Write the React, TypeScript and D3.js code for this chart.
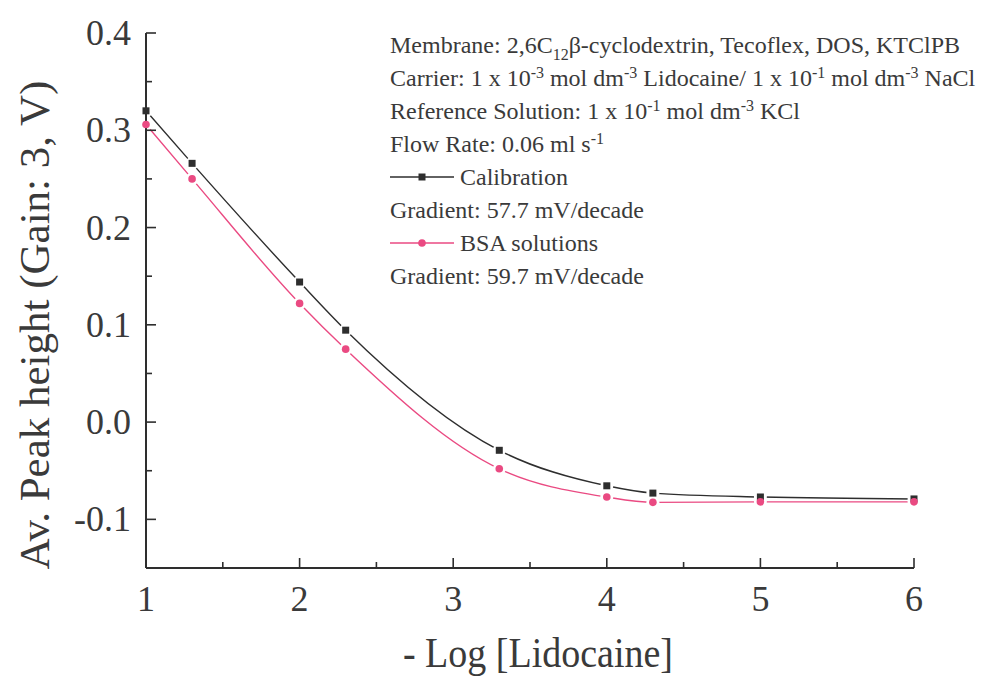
import React from "react";
import * as d3 from "d3";

const xValues = [1, 1.3, 2, 2.3, 3.3, 4, 4.3, 5, 6];
const calibration = [0.32, 0.266, 0.144, 0.0945, -0.029, -0.0655, -0.073, -0.077, -0.079];
const bsa = [0.306, 0.25, 0.122, 0.075, -0.048, -0.077, -0.0825, -0.082, -0.082];
const xTicks = [1, 2, 3, 4, 5, 6];
const xMinor = [1.5, 2.5, 3.5, 4.5, 5.5];
const yTicks = [-0.1, 0, 0.1, 0.2, 0.3, 0.4];
const yTickLabels = ["-0.1", "0.0", "0.1", "0.2", "0.3", "0.4"];
const yMinor = [-0.05, 0.05, 0.15, 0.25, 0.35];
const seriesNames = ["Calibration", "BSA solutions"];
const gradients = ["Gradient: 57.7 mV/decade", "Gradient: 59.7 mV/decade"];

const W = 991, H = 679;
const left = 146, right = 914, top = 33, bottom = 568;
const BLACK = "#2e2e2e";
const PINK = "#ea4a82";
const TXT = "#3a3a3a";
const FONT = "'Liberation Serif', 'Times New Roman', serif";

export default function App() {
  const x = d3.scaleLinear().domain([1, 6]).range([left, right]);
  const y = d3.scaleLinear().domain([-0.15, 0.4]).range([bottom, top]);
  const line = d3.line<number>().x((_, i) => x(xValues[i])).y((d) => y(d)).curve(d3.curveMonotoneX);

  const tickFs = 36;
  const lfs = 24;
  const lx = 390;
  const base0 = 53;
  const step = 33;
  const sup = { fontSize: 16, baselineShift: "super" } as any;

  return (
    <svg width={W} height={H} style={{ position: "absolute", left: 0, top: 0, background: "#fff" }} fontFamily={FONT}>
      <rect width={W} height={H} fill="#fff" />
      {/* series lines */}
      <path d={line(calibration) || ""} fill="none" stroke={BLACK} strokeWidth={1.4} />
      <path d={line(bsa) || ""} fill="none" stroke={PINK} strokeWidth={1.4} />
      {/* halos */}
      {xValues.map((xv, i) => (
        <g key={"h" + i}>
          <circle cx={x(xv)} cy={y(calibration[i])} r={6.5} fill="#fff" />
          <circle cx={x(xv)} cy={y(bsa[i])} r={6.5} fill="#fff" />
        </g>
      ))}
      {/* axes */}
      <line x1={left} x2={left} y1={top} y2={bottom} stroke={BLACK} strokeWidth={2} />
      <line x1={left} x2={right} y1={bottom} y2={bottom} stroke={BLACK} strokeWidth={2} />
      {yTicks.map((t, i) => (
        <g key={"yt" + t}>
          <line x1={left} x2={left + 10} y1={y(t)} y2={y(t)} stroke={BLACK} strokeWidth={1.6} />
          <text x={131} y={y(t) + 12} textAnchor="end" fontSize={tickFs} fill={TXT}>
            {yTickLabels[i]}
          </text>
        </g>
      ))}
      {yMinor.map((t) => (
        <line key={"ym" + t} x1={left} x2={left + 6} y1={y(t)} y2={y(t)} stroke={BLACK} strokeWidth={1.6} />
      ))}
      {xTicks.map((t) => (
        <g key={"xt" + t}>
          <line x1={x(t)} x2={x(t)} y1={bottom} y2={bottom - 10} stroke={BLACK} strokeWidth={1.6} />
          <text x={x(t)} y={611} textAnchor="middle" fontSize={tickFs} fill={TXT}>
            {t}
          </text>
        </g>
      ))}
      {xMinor.map((t) => (
        <line key={"xm" + t} x1={x(t)} x2={x(t)} y1={bottom} y2={bottom - 6} stroke={BLACK} strokeWidth={1.6} />
      ))}
      {/* markers */}
      {xValues.map((xv, i) => (
        <g key={"m" + i}>
          <rect x={x(xv) - 3.5} y={y(calibration[i]) - 3.5} width={7} height={7} fill={BLACK} />
          <circle cx={x(xv)} cy={y(bsa[i])} r={3.8} fill={PINK} />
        </g>
      ))}
      {/* axis titles */}
      <text transform="translate(538,667) scale(1,1.1)" textAnchor="middle" fontSize={38} fill={TXT}>- Log [Lidocaine]</text>
      <text transform={`translate(49,325) rotate(-90)`} textAnchor="middle" fontSize={43} fill={TXT}>
        Av. Peak height (Gain: 3, V)
      </text>
      {/* annotation / legend */}
      <g fontSize={lfs} fill={TXT}>
        <text x={lx} y={base0}>
          Membrane: 2,6C<tspan fontSize={16} dy={7}>12</tspan><tspan dy={-7}>β-cyclodextrin, Tecoflex, DOS, KTClPB</tspan>
        </text>
        <text x={lx} y={base0 + step}>
          Carrier: 1 x 10<tspan {...sup}>-3</tspan> mol dm<tspan {...sup}>-3</tspan> Lidocaine/ 1 x 10<tspan {...sup}>-1</tspan> mol dm<tspan {...sup}>-3</tspan> NaCl
        </text>
        <text x={lx} y={base0 + step * 2}>
          Reference Solution: 1 x 10<tspan {...sup}>-1</tspan> mol dm<tspan {...sup}>-3</tspan> KCl
        </text>
        <text x={lx} y={base0 + step * 3}>
          Flow Rate: 0.06 ml s<tspan {...sup}>-1</tspan>
        </text>
        {[0, 1].map((k) => {
          const by = base0 + step * (4 + 2 * k);
          const cy = by - 8;
          const col = k === 0 ? BLACK : PINK;
          return (
            <g key={"lg" + k}>
              <line x1={lx} x2={lx + 64} y1={cy} y2={cy} stroke={col} strokeWidth={1.4} />
              {k === 0 ? (
                <rect x={lx + 32 - 3.5} y={cy - 3.5} width={7} height={7} fill={col} />
              ) : (
                <circle cx={lx + 32} cy={cy} r={3.8} fill={col} />
              )}
              <text x={lx + 70} y={by}>{seriesNames[k]}</text>
              <text x={lx} y={by + step}>{gradients[k]}</text>
            </g>
          );
        })}
      </g>
    </svg>
  );
}
